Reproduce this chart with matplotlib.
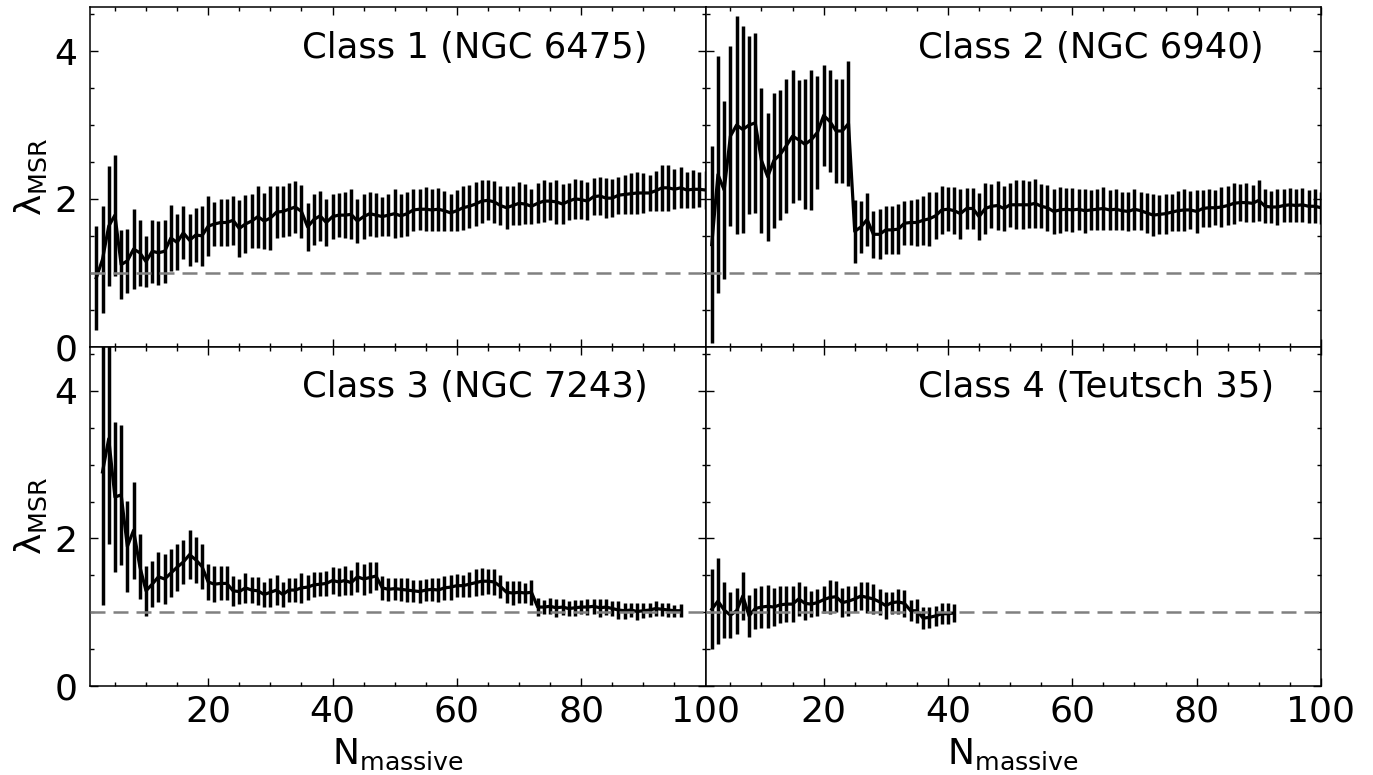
import numpy as np
import matplotlib
matplotlib.use('Agg')
import matplotlib.pyplot as plt
from matplotlib.ticker import MultipleLocator

# Class 1 (NGC 6475), N = 2..100
n1 = np.arange(2, 101)
lam1 = [0.93, 1.18, 1.63, 1.78, 1.11, 1.16, 1.32, 1.27, 1.15, 1.29,
        1.27, 1.29, 1.47, 1.41, 1.54, 1.44, 1.51, 1.50, 1.63, 1.66,
        1.68, 1.68, 1.71, 1.60, 1.66, 1.70, 1.76, 1.70, 1.74, 1.82,
        1.83, 1.86, 1.89, 1.83, 1.62, 1.72, 1.77, 1.68, 1.76, 1.78,
        1.78, 1.79, 1.70, 1.76, 1.80, 1.78, 1.76, 1.78, 1.80, 1.77,
        1.80, 1.85, 1.86, 1.86, 1.85, 1.86, 1.84, 1.81, 1.84, 1.88,
        1.90, 1.93, 1.97, 1.98, 1.96, 1.91, 1.88, 1.91, 1.94, 1.93,
        1.90, 1.94, 1.97, 1.97, 1.96, 1.93, 1.97, 2.00, 1.99, 1.97,
        2.03, 2.04, 2.01, 2.01, 2.05, 2.06, 2.07, 2.08, 2.08, 2.08,
        2.11, 2.15, 2.15, 2.13, 2.15, 2.12, 2.13, 2.13, 2.12]
err1 = [0.70, 0.72, 0.81, 0.82, 0.47, 0.43, 0.54, 0.45, 0.35, 0.43,
        0.43, 0.43, 0.45, 0.38, 0.36, 0.35, 0.37, 0.41, 0.41, 0.30,
        0.32, 0.32, 0.33, 0.39, 0.39, 0.36, 0.42, 0.38, 0.43, 0.35,
        0.34, 0.36, 0.35, 0.36, 0.33, 0.34, 0.34, 0.32, 0.30, 0.30,
        0.31, 0.34, 0.30, 0.30, 0.30, 0.30, 0.26, 0.28, 0.33, 0.29,
        0.30, 0.28, 0.28, 0.30, 0.28, 0.29, 0.27, 0.25, 0.28, 0.30,
        0.29, 0.30, 0.29, 0.27, 0.28, 0.27, 0.29, 0.26, 0.29, 0.27,
        0.24, 0.27, 0.28, 0.26, 0.30, 0.27, 0.25, 0.27, 0.26, 0.26,
        0.25, 0.26, 0.27, 0.26, 0.25, 0.26, 0.28, 0.28, 0.27, 0.24,
        0.27, 0.31, 0.31, 0.27, 0.28, 0.25, 0.26, 0.24, 0.26]

# Class 2 (NGC 6940), N = 2..100
n2 = np.arange(2, 101)
lam2 = [1.38, 2.33, 2.12, 2.85, 3.00, 2.94, 3.00, 3.03, 2.52, 2.30,
        2.52, 2.60, 2.72, 2.85, 2.80, 2.74, 2.80, 2.90, 3.13, 3.05,
        2.92, 2.92, 3.02, 1.56, 1.62, 1.72, 1.52, 1.52, 1.58, 1.58,
        1.59, 1.67, 1.68, 1.68, 1.71, 1.73, 1.77, 1.85, 1.86, 1.84,
        1.80, 1.87, 1.87, 1.76, 1.87, 1.90, 1.91, 1.87, 1.92, 1.92,
        1.92, 1.92, 1.94, 1.90, 1.88, 1.83, 1.85, 1.86, 1.85, 1.86,
        1.84, 1.85, 1.86, 1.87, 1.85, 1.86, 1.84, 1.83, 1.86, 1.84,
        1.81, 1.78, 1.79, 1.80, 1.82, 1.84, 1.85, 1.85, 1.83, 1.87,
        1.88, 1.88, 1.89, 1.91, 1.94, 1.95, 1.95, 1.94, 1.98, 1.90,
        1.89, 1.89, 1.91, 1.92, 1.91, 1.92, 1.90, 1.90, 1.88]
err2 = [1.33, 1.60, 1.21, 1.22, 1.48, 1.40, 1.21, 1.22, 0.98, 0.87,
        0.91, 0.88, 0.91, 0.90, 0.81, 0.88, 0.95, 0.77, 0.69, 0.69,
        0.70, 0.70, 0.85, 0.43, 0.35, 0.36, 0.32, 0.34, 0.33, 0.33,
        0.34, 0.30, 0.30, 0.32, 0.33, 0.37, 0.32, 0.33, 0.30, 0.32,
        0.34, 0.28, 0.28, 0.32, 0.34, 0.30, 0.33, 0.30, 0.30, 0.33,
        0.33, 0.32, 0.33, 0.30, 0.31, 0.30, 0.31, 0.29, 0.30, 0.28,
        0.30, 0.27, 0.28, 0.29, 0.27, 0.28, 0.26, 0.27, 0.28, 0.26,
        0.27, 0.28, 0.26, 0.27, 0.25, 0.27, 0.28, 0.26, 0.29, 0.25,
        0.26, 0.24, 0.27, 0.26, 0.28, 0.25, 0.26, 0.25, 0.28, 0.23,
        0.22, 0.24, 0.22, 0.23, 0.22, 0.23, 0.22, 0.23, 0.22]

# Class 3 (NGC 7243), N = 3..96
n3 = np.arange(3, 97)
lam3 = [2.90, 3.35, 2.56, 2.59, 1.89, 2.11, 1.62, 1.29, 1.38, 1.48,
        1.45, 1.53, 1.61, 1.68, 1.78, 1.71, 1.62, 1.41, 1.38, 1.39,
        1.39, 1.29, 1.28, 1.33, 1.30, 1.29, 1.24, 1.27, 1.30, 1.24,
        1.30, 1.30, 1.33, 1.34, 1.37, 1.38, 1.39, 1.43, 1.41, 1.43,
        1.40, 1.48, 1.45, 1.47, 1.49, 1.33, 1.31, 1.32, 1.31, 1.30,
        1.29, 1.28, 1.30, 1.31, 1.30, 1.33, 1.34, 1.36, 1.36, 1.38,
        1.40, 1.42, 1.42, 1.41, 1.35, 1.27, 1.26, 1.27, 1.26, 1.27,
        1.07, 1.07, 1.08, 1.06, 1.07, 1.05, 1.06, 1.07, 1.07, 1.08,
        1.06, 1.07, 1.05, 1.03, 1.02, 1.03, 1.01, 1.02, 1.03, 1.05,
        1.04, 1.03, 1.02, 1.02]
err3 = [1.80, 1.42, 1.02, 0.95, 0.62, 0.66, 0.44, 0.34, 0.31, 0.34,
        0.34, 0.33, 0.32, 0.30, 0.33, 0.31, 0.31, 0.25, 0.24, 0.23,
        0.23, 0.20, 0.17, 0.20, 0.18, 0.19, 0.17, 0.20, 0.20, 0.17,
        0.16, 0.16, 0.20, 0.17, 0.17, 0.16, 0.17, 0.18, 0.19, 0.20,
        0.17, 0.20, 0.21, 0.21, 0.19, 0.16, 0.16, 0.15, 0.16, 0.16,
        0.15, 0.16, 0.15, 0.16, 0.16, 0.16, 0.17, 0.16, 0.15, 0.17,
        0.18, 0.18, 0.17, 0.18, 0.16, 0.15, 0.16, 0.15, 0.14, 0.17,
        0.12, 0.10, 0.11, 0.12, 0.11, 0.10, 0.11, 0.10, 0.11, 0.10,
        0.12, 0.11, 0.10, 0.12, 0.11, 0.10, 0.11, 0.10, 0.10, 0.10,
        0.09, 0.09, 0.08, 0.09]

# Class 4 (Teutsch 35), N = 2..41
n4 = np.arange(2, 42)
lam4 = [1.04, 1.15, 1.03, 0.96, 1.02, 1.22, 0.95, 1.05, 1.07, 1.08,
        1.07, 1.10, 1.11, 1.11, 1.18, 1.12, 1.11, 1.13, 1.17, 1.20,
        1.21, 1.13, 1.15, 1.18, 1.22, 1.20, 1.18, 1.14, 1.09, 1.13,
        1.14, 1.12, 1.02, 1.02, 0.92, 0.93, 0.95, 0.98, 0.98, 0.99]
err4 = [0.54, 0.58, 0.38, 0.31, 0.31, 0.33, 0.29, 0.28, 0.28, 0.29,
        0.26, 0.25, 0.24, 0.24, 0.23, 0.23, 0.18, 0.18, 0.18, 0.23,
        0.21, 0.20, 0.20, 0.18, 0.19, 0.21, 0.20, 0.18, 0.18, 0.15,
        0.17, 0.18, 0.14, 0.16, 0.15, 0.14, 0.14, 0.14, 0.14, 0.12]

labels = ['Class 1 (NGC 6475)', 'Class 2 (NGC 6940)',
          'Class 3 (NGC 7243)', 'Class 4 (Teutsch 35)']

fig, axs = plt.subplots(2, 2, sharex=True, sharey=True, figsize=(13.73, 7.75), dpi=100)
fig.subplots_adjust(left=0.0656, right=0.9621, top=0.991, bottom=0.1148, wspace=0, hspace=0)

series = [(n1, lam1, err1), (n2, lam2, err2), (n3, lam3, err3), (n4, lam4, err4)]
for ax, (n, lam, err), lab in zip(axs.flat, series, labels):
    ax.errorbar(n, lam, yerr=err, fmt='-', color='k', lw=2.3, elinewidth=2.5, capsize=0, zorder=2)
    ax.axhline(1, color='gray', ls='--', lw=1.8, dashes=(6, 3.2), zorder=3)
    ax.text(0.345, 0.88, lab, transform=ax.transAxes, ha='left', va='center', fontsize=25.5)
    ax.set_xlim(1, 100)
    ax.set_ylim(0, 4.6)
    ax.xaxis.set_major_locator(MultipleLocator(20))
    ax.xaxis.set_minor_locator(MultipleLocator(5))
    ax.yaxis.set_major_locator(MultipleLocator(2))
    ax.yaxis.set_minor_locator(MultipleLocator(0.5))
    ax.tick_params(which='both', direction='in', top=True, right=True, width=1.0)
    ax.tick_params(which='major', length=5.8, labelsize=26)
    ax.tick_params(which='minor', length=2.9)
    ax.tick_params(axis='y', pad=9)
    ax.tick_params(axis='x', pad=6)
    for s in ax.spines.values():
        s.set_linewidth(1.1)

for ax in axs[:, 0]:
    ax.set_ylabel(r'λ$_{\mathrm{MSR}}$', fontsize=26, labelpad=4)
for ax in axs[1, :]:
    ax.set_xlabel(r'N$_{\mathrm{massive}}$', fontsize=26, labelpad=6)

fig.savefig('out.png', dpi=100)
